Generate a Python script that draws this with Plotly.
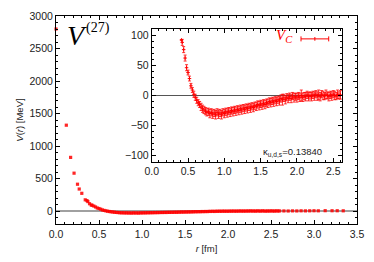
import plotly.graph_objects as go

# ---- data ----
r_core = [0.00, 0.12, 0.17, 0.21, 0.25, 0.27, 0.30, 0.34, 0.36, 0.37, 0.39, 0.41]
v_core = [2800, 1320, 825, 582, 412, 338, 272, 172, 160, 145, 112, 92]

r_mid = [0.42, 0.44, 0.46, 0.48, 0.50, 0.52, 0.54, 0.56, 0.58, 0.60,
         0.62, 0.64, 0.66, 0.68, 0.70, 0.72, 0.74, 0.76, 0.78, 0.80,
         0.82, 0.84, 0.86, 0.88, 0.90, 0.92, 0.94, 0.96, 0.98, 1.00,
         1.02, 1.04, 1.06, 1.08, 1.10, 1.12, 1.14, 1.16, 1.18, 1.20,
         1.22, 1.24, 1.26, 1.28, 1.30, 1.32, 1.34, 1.36, 1.38, 1.40,
         1.42, 1.44, 1.46, 1.48, 1.50, 1.52, 1.54, 1.56, 1.58, 1.60,
         1.62, 1.64, 1.66, 1.68, 1.70, 1.72, 1.74, 1.76, 1.78, 1.80,
         1.82, 1.84, 1.86, 1.88, 1.90, 1.92, 1.94, 1.96, 1.98, 2.00,
         2.02, 2.04, 2.06, 2.08, 2.10, 2.12, 2.14, 2.16, 2.18, 2.20,
         2.22, 2.24, 2.26, 2.28, 2.30, 2.32, 2.34, 2.36, 2.38, 2.40,
         2.42, 2.44, 2.46, 2.48, 2.50, 2.52, 2.54, 2.56, 2.58, 2.60]
v_mid = [88, 76, 62, 46, 38, 28, 16, 9, 2, -3,
         -8, -12, -15, -19, -22, -24, -26, -28, -27, -30,
         -28, -31, -29, -32, -28, -31, -29, -32, -28, -30,
         -27, -29, -26, -28, -25, -27, -24, -26, -23, -25,
         -22, -24, -21, -23, -20, -22, -19, -21, -18, -20,
         -17, -18, -15, -17, -14, -16, -13, -15, -12, -13,
         -10, -12, -9, -11, -8, -10, -7, -9, -5, -7,
         -4, -7, -3, -5, -2, -5, -1, -4, -2, -4,
         -1, -3, 0, -3, -1, -2, 1, -2, 0, -2,
         1, -1, 2, -1, 1, -2, 2, 0, -1, 2,
         0, -2, 1, -1, 2, 0, -1, 2, 0, 1]
e_mid = [5, 5, 5, 5, 4, 4, 4, 4, 5, 5,
         5, 5, 5, 6, 6, 6, 6, 6, 6, 7,
         6, 7, 6, 7, 6, 7, 6, 7, 6, 7,
         6, 7, 6, 7, 6, 7, 6, 7, 6, 7,
         6, 7, 6, 7, 6, 7, 6, 7, 6, 7,
         6, 7, 6, 7, 6, 7, 6, 7, 6, 7,
         6, 7, 6, 7, 6, 7, 6, 7, 6, 9,
         6, 7, 6, 7, 6, 7, 6, 7, 6, 7,
         6, 7, 9, 7, 6, 7, 6, 7, 6, 7,
         6, 7, 6, 7, 8, 7, 6, 7, 6, 7,
         6, 7, 6, 7, 6, 7, 6, 7, 6, 7]

r_tail = [2.65, 2.70, 2.75, 2.80, 2.85, 2.90, 2.95, 3.00, 3.05, 3.13, 3.21, 3.27, 3.34]
v_tail = [1, 0, 2, 1, 3, 2, 3, 4, 3, 5, 4, 4, 3]

x_main_ticks = [0.0, 0.5, 1.0, 1.5, 2.0, 2.5, 3.0, 3.5]
y_main_ticks = [0, 500, 1000, 1500, 2000, 2500, 3000]
x_inset_ticks = [0.0, 0.5, 1.0, 1.5, 2.0, 2.5]
y_inset_ticks = [-100, -50, 0, 50, 100]

RED = "#ff0000"
SANS = "Liberation Sans, Arial, sans-serif"
SERIF = "Liberation Serif, Times New Roman, serif"

fig = go.Figure()

# main panel
fig.add_trace(go.Scatter(
    x=r_core + r_mid + r_tail, y=v_core + v_mid + v_tail,
    mode="markers", marker=dict(color=RED, size=3.2, symbol="square", opacity=0.85),
    xaxis="x", yaxis="y", showlegend=False, cliponaxis=False))

# inset panel
fig.add_trace(go.Scatter(
    x=r_core + r_mid + r_tail, y=v_core + v_mid + v_tail,
    error_y=dict(type="data", array=[0] * len(r_core) + e_mid + [6] * len(r_tail),
                 color=RED, thickness=0.8, width=1.5),
    mode="markers", marker=dict(color=RED, size=2.5, symbol="cross-thin",
                                line=dict(color=RED, width=1)),
    xaxis="x2", yaxis="y2", showlegend=False, cliponaxis=True))

ax_common = dict(showline=True, linecolor="black", linewidth=1, mirror="allticks",
                 ticks="inside", ticklen=4, tickcolor="black", showgrid=False,
                 tickfont=dict(family=SANS, size=10.5, color="#222"))

fig.update_layout(
    width=374, height=262, autosize=False,
    margin=dict(l=56, r=12, t=10, b=31, pad=0),
    paper_bgcolor="white", plot_bgcolor="white",
    xaxis=dict(domain=[0, 1], range=[0, 3.5], tickvals=x_main_ticks, tickformat=".1f",
               minor=dict(dtick=0.1, ticks="inside", ticklen=2, tickcolor="black"),
               zeroline=False,
               title=dict(text="<i>r</i> [fm]", font=dict(family=SANS, size=9.5, color="#222"),
                          standoff=6),
               **ax_common),
    yaxis=dict(domain=[0, 1], range=[-200, 3000], tickvals=y_main_ticks,
               minor=dict(dtick=100, tick0=0, ticks="inside", ticklen=2, tickcolor="black"),
               zeroline=True, zerolinecolor="#a0a0a0", zerolinewidth=1.5,
               title=dict(text="<i>V</i>(<i>r</i>) [MeV]",
                          font=dict(family=SANS, size=9.5, color="#222"), standoff=4),
               **ax_common),
    xaxis2=dict(domain=[0.318, 0.950], range=[0, 2.62], anchor="y2",
                tickvals=x_inset_ticks, tickformat=".1f",
                minor=dict(dtick=0.1, ticks="inside", ticklen=2, tickcolor="black"),
                zeroline=False, **ax_common),
    yaxis2=dict(domain=[0.299, 0.937], range=[-110, 110], anchor="x2",
                tickvals=y_inset_ticks,
                minor=dict(dtick=10, tick0=0, ticks="inside", ticklen=2, tickcolor="black"),
                zeroline=True, zerolinecolor="#555555", zerolinewidth=1,
                **ax_common),
)

annotations = [
    dict(text="<i>V</i>", x=0.030, y=0.905, xref="paper", yref="paper",
         xanchor="left", yanchor="middle", showarrow=False,
         font=dict(family=SERIF, size=28, color="black")),
    dict(text="(27)", x=0.140, y=0.940, xref="paper", yref="paper",
         xanchor="center", yanchor="middle", showarrow=False,
         font=dict(family=SERIF, size=14, color="black")),
    dict(text="<i>V</i><sub><i>C</i></sub>", x=0.793, y=0.905, xref="paper", yref="paper",
         xanchor="right", yanchor="middle", showarrow=False,
         font=dict(family=SERIF, size=15, color=RED)),
    dict(text="κ<sub>u,d,s</sub>=0.13840", x=0.680, y=0.345, xref="paper", yref="paper",
         xanchor="left", yanchor="middle", showarrow=False,
         font=dict(family=SANS, size=9.5, color="#222")),
]
fig.update_layout(annotations=annotations)

# legend sample (line with error-bar caps)
ly = 0.890
lx0, lx1 = 0.814, 0.906
shapes = [
    dict(type="line", xref="paper", yref="paper", x0=lx0, x1=lx1, y0=ly, y1=ly,
         line=dict(color=RED, width=1)),
    dict(type="line", xref="paper", yref="paper", x0=lx0, x1=lx0, y0=ly - 0.012, y1=ly + 0.012,
         line=dict(color=RED, width=1)),
    dict(type="line", xref="paper", yref="paper", x0=lx1, x1=lx1, y0=ly - 0.012, y1=ly + 0.012,
         line=dict(color=RED, width=1)),
    dict(type="line", xref="paper", yref="paper", x0=(lx0 + lx1) / 2, x1=(lx0 + lx1) / 2,
         y0=ly - 0.009, y1=ly + 0.009, line=dict(color=RED, width=1)),
]
fig.update_layout(shapes=shapes)

fig.write_html("out.html", config={"displayModeBar": False},
               post_script="document.body.style.margin='0';document.body.style.padding='0';")
